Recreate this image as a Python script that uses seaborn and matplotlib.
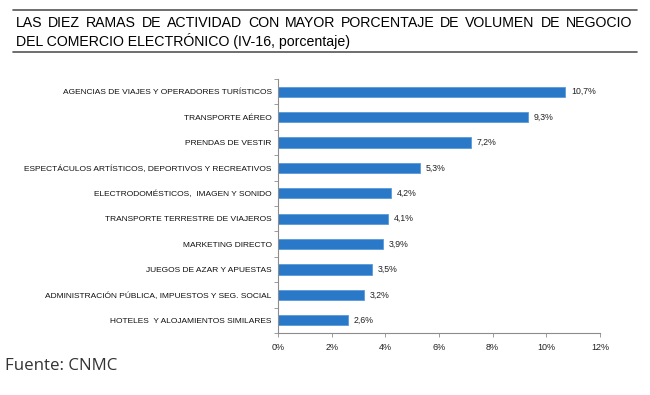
import matplotlib
matplotlib.use("Agg")
import matplotlib.pyplot as plt
import seaborn as sns
import pandas as pd
from matplotlib.ticker import FuncFormatter, FixedLocator

ramas = [
    "AGENCIAS DE VIAJES Y OPERADORES TURÍSTICOS",
    "TRANSPORTE AÉREO",
    "PRENDAS DE VESTIR",
    "ESPECTÁCULOS ARTÍSTICOS, DEPORTIVOS Y RECREATIVOS",
    "ELECTRODOMÉSTICOS,  IMAGEN Y SONIDO",
    "TRANSPORTE TERRESTRE DE VIAJEROS",
    "MARKETING DIRECTO",
    "JUEGOS DE AZAR Y APUESTAS",
    "ADMINISTRACIÓN PÚBLICA, IMPUESTOS Y SEG. SOCIAL",
    "HOTELES  Y ALOJAMIENTOS SIMILARES",
]
porcentaje = [10.7, 9.3, 7.2, 5.3, 4.2, 4.1, 3.9, 3.5, 3.2, 2.6]
x_ticks = [0, 2, 4, 6, 8, 10, 12]

titulo_1 = "LAS DIEZ RAMAS DE ACTIVIDAD CON MAYOR PORCENTAJE DE VOLUMEN DE NEGOCIO"
titulo_2 = "DEL COMERCIO ELECTRÓNICO (IV-16, porcentaje)"
fuente = "Fuente: CNMC"

df = pd.DataFrame({"rama": ramas, "pct": porcentaje})

sns.set_theme(style="white")
plt.rcParams["font.family"] = ["Liberation Sans", "DejaVu Sans"]

W, H = 650, 395
fig = plt.figure(figsize=(6.5, 3.95), dpi=100)
ax = fig.add_axes([278 / W, 1 - 333 / H, 322 / W, (333 - 79) / H])

sns.barplot(data=df, y="rama", x="pct", orient="h", color="#2a78c8",
            width=0.4, edgecolor="#5a9ad8", linewidth=0.6, ax=ax, saturation=1)

ax.set_xlim(0, 12)
ax.set_ylim(len(ramas) - 0.5, -0.5)
ax.xaxis.set_major_locator(FixedLocator(x_ticks))
ax.xaxis.set_major_formatter(FuncFormatter(lambda v, p: f"{int(v)}%"))
ax.set_xlabel("")
ax.set_ylabel("")

for s in ["top", "right"]:
    ax.spines[s].set_visible(False)
for s in ["left", "bottom"]:
    ax.spines[s].set_color("#8c8c8c")
    ax.spines[s].set_linewidth(0.8)

ax.tick_params(axis="x", labelsize=6.5, colors="#8c8c8c", labelcolor="#222222",
               length=3, width=0.6, direction="out", bottom=True, pad=4)
ax.tick_params(axis="y", labelsize=6.0, labelcolor="#111111", length=0, pad=4.5)
ax.set_yticks(range(len(ramas)), ramas)
ax.set_yticks([i - 0.5 for i in range(len(ramas) + 1)], minor=True)
ax.tick_params(axis="y", which="minor", length=3, width=0.6, colors="#8c8c8c", left=True)

for i, v in enumerate(porcentaje):
    ax.text(v + 0.22, i, f"{v:.1f}%".replace(".", ","), va="center", ha="left",
            fontsize=6.3, color="#222222")

# title: first line justified between the rules, second line left aligned
x0, x1 = 16 / W, 632 / W
y1, y2 = 1 - 23 / H, 1 - 41 / H
fig.canvas.draw()
renderer = fig.canvas.get_renderer()
words = titulo_1.split(" ")
arts = [fig.text(0, y1, w, ha="left", va="center", fontsize=10.2, color="#000000")
        for w in words]
widths = [a.get_window_extent(renderer).width / fig.bbox.width for a in arts]
gap = (x1 - x0 - sum(widths)) / (len(words) - 1)
xpos = x0
for a, w in zip(arts, widths):
    a.set_x(xpos)
    xpos += w + gap
fig.text(x0, y2, titulo_2, ha="left", va="center", fontsize=10.2, color="#000000")

fig.add_artist(plt.Line2D([13 / W, 637 / W], [1 - 10 / H] * 2,
                          color="#555555", linewidth=1.2))
fig.add_artist(plt.Line2D([13 / W, 637 / W], [1 - 52 / H] * 2,
                          color="#555555", linewidth=1.2))

fig.text(5 / W, 1 - 366 / H, fuente, ha="left", va="center",
         fontsize=12.2, color="#333333", family=["Open Sans", "DejaVu Sans"])

fig.savefig("out.png", dpi=100, facecolor="white")
